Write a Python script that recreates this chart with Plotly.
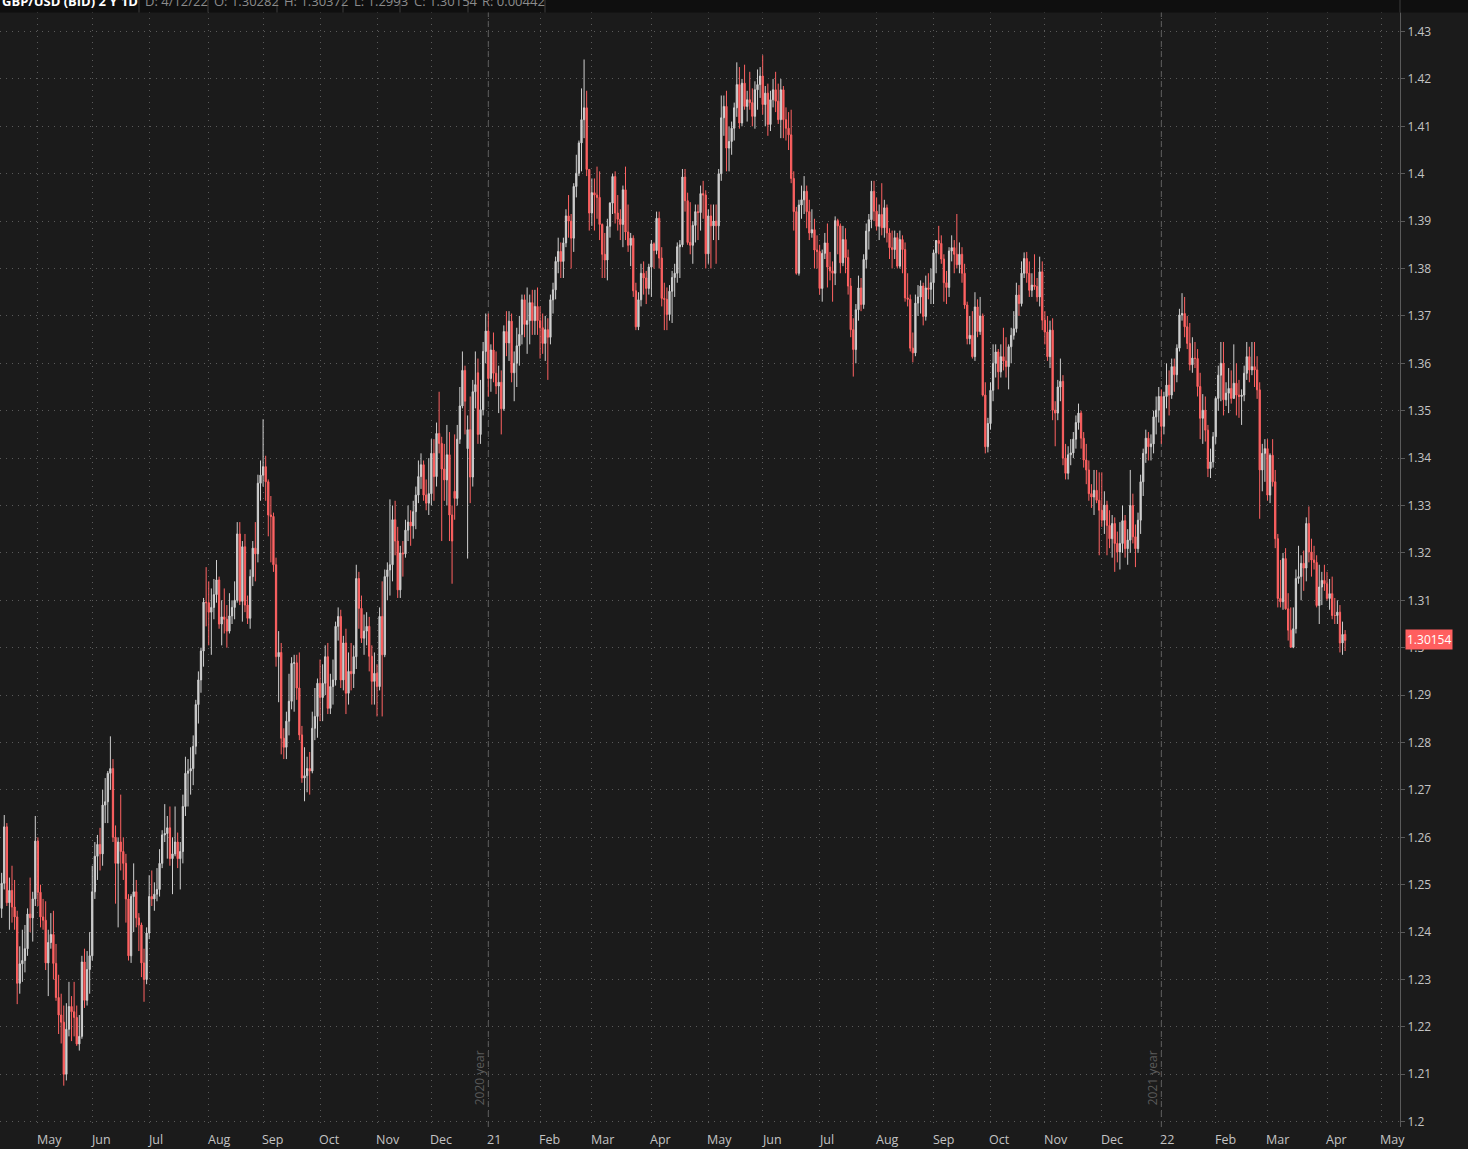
import numpy as np
import pandas as pd
import plotly.graph_objects as go

# ---------------- DATA: GBP/USD (BID), daily candles, 13 Apr 2020 - 12 Apr 2022 ----------------
opens = [
 # Apr 2020
 1.2450,1.2503,1.2622,1.2462,1.2488,1.2453,1.2432,1.2292,1.2333,1.2340,1.2365,1.2438,1.2430,1.2470,
 # May 2020
 1.2592,1.2484,1.2432,1.2425,1.2335,1.2378,1.2395,1.2334,1.2262,1.2225,1.2210,1.2100,1.2195,1.2243,1.2232,1.2220,1.2164,1.2180,1.2337,1.2256,1.2321,
 # Jun 2020
 1.2350,1.2485,1.2560,1.2585,1.2565,1.2668,1.2675,1.2735,1.2745,1.2600,1.2545,1.2590,1.2570,1.2545,1.2470,1.2350,1.2475,1.2485,1.2430,1.2415,1.2335,1.2300,
 # Jul 2020
 1.2398,1.2475,1.2470,1.2480,1.2490,1.2545,1.2605,1.2608,1.2620,1.2555,1.2565,1.2590,1.2555,1.2570,1.2665,1.2735,1.2740,1.2745,1.2792,1.2880,1.2932,1.2993,1.3096,
 # Aug 2020
 1.3095,1.3075,1.3085,1.3112,1.3143,1.3050,1.3065,1.3060,1.3035,1.3067,1.3085,1.3100,1.3240,1.3098,1.3213,1.3090,1.3062,1.3150,1.3210,1.3198,1.3347,
 # Sep 2020
 1.3364,1.3382,1.3350,1.3280,1.3277,1.3175,1.2981,1.2990,1.2809,1.2790,1.2845,1.2887,1.2967,1.2968,1.2915,1.2816,1.2725,1.2730,1.2745,1.2740,1.2830,1.2855,
 # Oct 2020
 1.2925,1.2895,1.2925,1.2981,1.2872,1.2918,1.2932,1.3045,1.3066,1.2932,1.3010,1.2904,1.2950,1.2945,1.2981,1.3146,1.3083,1.3020,1.3035,1.3045,1.2982,1.2929,
 # Nov 2020
 1.2946,1.2918,1.3066,1.2985,1.3150,1.3164,1.3175,1.3270,1.3225,1.3122,1.3200,1.3198,1.3248,1.3265,1.3257,1.3287,1.3322,1.3361,1.3386,1.3322,1.3305,
 # Dec 2020
 1.3325,1.3410,1.3361,1.3452,1.3431,1.3377,1.3354,1.3407,1.3280,1.3330,1.3315,1.3440,1.3510,1.3585,1.3420,1.3460,1.3360,1.3540,1.3580,1.3450,1.3502,1.3625,
 # Jan 2021
 1.3668,1.3568,1.3628,1.3579,1.3552,1.3560,1.3504,1.3667,1.3643,1.3689,1.3580,1.3600,1.3637,1.3661,1.3734,1.3682,1.3690,1.3728,1.3690,1.3720,
 # Feb 2021
 1.3690,1.3675,1.3642,1.3671,1.3655,1.3734,1.3755,1.3815,1.3836,1.3815,1.3854,1.3911,1.3900,1.3864,1.3973,1.4001,1.4065,1.4114,1.4139,1.4009,
 # Mar 2021
 1.3917,1.3960,1.3955,1.3950,1.3893,1.3830,1.3818,1.3889,1.3938,1.3994,1.3917,1.3904,1.3893,1.3966,1.3877,1.3849,1.3864,1.3753,1.3677,1.3734,1.3790,1.3780,1.3758,
 # Apr 2021
 1.3803,1.3852,1.3838,1.3906,1.3822,1.3737,1.3735,1.3703,1.3752,1.3781,1.3790,1.3846,1.3850,1.3993,1.3943,1.3855,1.3849,1.3891,1.3920,1.3918,1.3958,1.3955,
 # May 2021
 1.3831,1.3911,1.3890,1.3900,1.3890,1.4000,1.4118,1.4142,1.4054,1.4068,1.4096,1.4139,1.4188,1.4107,1.4191,1.4142,1.4156,1.4150,1.4121,1.4177,1.4188,
 # Jun 2021
 1.4206,1.4146,1.4170,1.4104,1.4156,1.4177,1.4153,1.4114,1.4177,1.4114,1.4096,1.4082,1.3990,1.3920,1.3790,1.3934,1.3945,1.3963,1.3920,1.3875,1.3882,1.3839,
 # Jul 2021
 1.3836,1.3758,1.3832,1.3854,1.3803,1.3795,1.3790,1.3901,1.3890,1.3812,1.3861,1.3823,1.3763,1.3671,1.3629,1.3713,1.3759,1.3724,1.3819,1.3879,1.3903,1.3963,
 # Aug 2021
 1.3921,1.3889,1.3914,1.3886,1.3928,1.3875,1.3844,1.3840,1.3865,1.3805,1.3861,1.3840,1.3738,1.3735,1.3632,1.3622,1.3727,1.3740,1.3763,1.3699,1.3759,1.3756,
 # Sep 2021
 1.3770,1.3833,1.3859,1.3853,1.3820,1.3770,1.3760,1.3837,1.3844,1.3830,1.3808,1.3830,1.3790,1.3723,1.3652,1.3659,1.3614,1.3719,1.3667,1.3700,1.3533,1.3424,
 # Oct 2021
 1.3473,1.3543,1.3600,1.3624,1.3582,1.3614,1.3605,1.3593,1.3635,1.3659,1.3673,1.3744,1.3726,1.3790,1.3821,1.3790,1.3754,1.3765,1.3762,1.3740,1.3793,
 # Nov 2021
 1.3691,1.3666,1.3614,1.3670,1.3501,1.3495,1.3550,1.3562,1.3400,1.3368,1.3407,1.3411,1.3440,1.3475,1.3495,1.3442,1.3396,1.3375,1.3325,1.3318,1.3332,1.3311,
 # Dec 2021
 1.3290,1.3269,1.3301,1.3258,1.3230,1.3262,1.3220,1.3202,1.3220,1.3268,1.3209,1.3227,1.3300,1.3234,1.3209,1.3269,1.3350,1.3410,1.3442,1.3424,1.3430,1.3487,1.3501,
 # Jan 2022
 1.3530,1.3467,1.3530,1.3554,1.3533,1.3593,1.3576,1.3632,1.3702,1.3705,1.3677,1.3642,1.3597,1.3611,1.3610,1.3551,1.3484,1.3501,1.3459,1.3378,1.3392,
 # Feb 2022
 1.3445,1.3526,1.3575,1.3600,1.3523,1.3537,1.3547,1.3526,1.3558,1.3533,1.3530,1.3533,1.3579,1.3614,1.3586,1.3593,1.3586,1.3544,1.3375,1.3410,
 # Mar 2022
 1.3420,1.3322,1.3406,1.3350,1.3230,1.3104,1.3097,1.3188,1.3082,1.3037,1.3001,1.3040,1.3146,1.3150,1.3178,1.3168,1.3262,1.3202,1.3185,1.3180,1.3089,1.3128,1.3142,
 # Apr 2022
 1.3135,1.3104,1.3114,1.3068,1.3068,1.3075,1.3010,1.30282,
]

highs = [
 # Apr 2020
 1.2525,1.2647,1.2630,1.2515,1.2540,1.2510,1.2445,1.2370,1.2405,1.2415,1.2450,1.2515,1.2485,1.2645,
 # May 2020
 1.2600,1.2500,1.2470,1.2465,1.2405,1.2440,1.2445,1.2375,1.2310,1.2270,1.2245,1.2250,1.2295,1.2265,1.2295,1.2245,1.2225,1.2350,1.2365,1.2360,1.2400,
 # Jun 2020
 1.2540,1.2590,1.2605,1.2620,1.2700,1.2725,1.2740,1.2813,1.2765,1.2625,1.2600,1.2690,1.2600,1.2565,1.2480,1.2480,1.2545,1.2510,1.2440,1.2420,1.2365,1.2410,
 # Jul 2020
 1.2520,1.2530,1.2505,1.2535,1.2575,1.2615,1.2670,1.2645,1.2665,1.2600,1.2665,1.2610,1.2590,1.2690,1.2770,1.2765,1.2790,1.2815,1.2890,1.2950,1.3000,1.3105,1.3170,
 # Aug 2020
 1.3140,1.3125,1.3145,1.3185,1.3150,1.3100,1.3125,1.3090,1.3115,1.3100,1.3140,1.3265,1.3265,1.3225,1.3240,1.3110,1.3165,1.3225,1.3265,1.3365,1.3395,
 # Sep 2020
 1.3482,1.3405,1.3355,1.3320,1.3285,1.3190,1.3035,1.3010,1.2830,1.2865,1.2945,1.2980,1.2985,1.2985,1.2990,1.2835,1.2790,1.2770,1.2780,1.2865,1.2915,1.2935,
 # Oct 2020
 1.2975,1.2965,1.3005,1.3010,1.2945,1.2975,1.3055,1.3085,1.3080,1.3025,1.3040,1.2990,1.3010,1.3005,1.3175,1.3160,1.3110,1.3070,1.3075,1.3065,1.3005,1.2990,
 # Nov 2020
 1.2965,1.3085,1.3140,1.3165,1.3180,1.3313,1.3300,1.3310,1.3255,1.3215,1.3225,1.3270,1.3300,1.3290,1.3310,1.3340,1.3395,1.3410,1.3395,1.3355,1.3400,
 # Dec 2020
 1.3440,1.3440,1.3475,1.3540,1.3445,1.3430,1.3470,1.3455,1.3300,1.3450,1.3470,1.3550,1.3625,1.3595,1.3490,1.3530,1.3565,1.3625,1.3610,1.3565,1.3645,1.3705,
 # Jan 2021
 1.3705,1.3640,1.3665,1.3625,1.3595,1.3585,1.3680,1.3710,1.3710,1.3705,1.3625,1.3675,1.3700,1.3745,1.3745,1.3760,1.3745,1.3755,1.3755,1.3760,
 # Feb 2021
 1.3720,1.3705,1.3700,1.3695,1.3745,1.3770,1.3825,1.3865,1.3855,1.3865,1.3925,1.3955,1.3915,1.3980,1.4040,1.4070,1.4180,1.4241,1.4175,1.4010,
 # Mar 2021
 1.3990,1.3990,1.4015,1.4005,1.3895,1.3875,1.3905,1.3940,1.4000,1.4005,1.3955,1.3925,1.3975,1.4015,1.3935,1.3875,1.3870,1.3770,1.3750,1.3810,1.3815,1.3795,1.3810,
 # Apr 2021
 1.3860,1.3855,1.3920,1.3920,1.3845,1.3770,1.3760,1.3765,1.3795,1.3810,1.3855,1.3860,1.4010,1.4010,1.3960,1.3940,1.3900,1.3935,1.3935,1.3975,1.3985,1.3965,
 # May 2021
 1.3925,1.3935,1.3935,1.3935,1.4010,1.4165,1.4165,1.4175,1.4100,1.4110,1.4150,1.4235,1.4225,1.4200,1.4230,1.4175,1.4215,1.4180,1.4195,1.4220,1.4225,
 # Jun 2021
 1.4250,1.4185,1.4190,1.4175,1.4200,1.4215,1.4190,1.4200,1.4185,1.4140,1.4130,1.4135,1.4005,1.3930,1.3945,1.3975,1.3995,1.3975,1.3945,1.3925,1.3905,1.3870,
 # Jul 2021
 1.3850,1.3840,1.3875,1.3895,1.3835,1.3815,1.3910,1.3905,1.3895,1.3890,1.3885,1.3840,1.3780,1.3695,1.3725,1.3785,1.3780,1.3830,1.3895,1.3915,1.3985,1.3985,
 # Aug 2021
 1.3950,1.3935,1.3980,1.3945,1.3935,1.3885,1.3880,1.3880,1.3875,1.3880,1.3870,1.3855,1.3790,1.3745,1.3665,1.3745,1.3765,1.3775,1.3770,1.3785,1.3790,1.3800,
 # Sep 2021
 1.3840,1.3860,1.3890,1.3870,1.3830,1.3795,1.3845,1.3870,1.3860,1.3915,1.3855,1.3845,1.3810,1.3730,1.3700,1.3710,1.3750,1.3735,1.3740,1.3705,1.3560,1.3485,
 # Oct 2021
 1.3560,1.3640,1.3640,1.3630,1.3640,1.3675,1.3655,1.3640,1.3675,1.3710,1.3770,1.3765,1.3815,1.3834,1.3835,1.3815,1.3790,1.3830,1.3780,1.3825,1.3815,
 # Nov 2021
 1.3710,1.3700,1.3690,1.3695,1.3520,1.3565,1.3610,1.3575,1.3430,1.3425,1.3440,1.3455,1.3490,1.3515,1.3500,1.3455,1.3430,1.3395,1.3345,1.3375,1.3375,1.3370,
 # Dec 2021
 1.3370,1.3330,1.3310,1.3290,1.3280,1.3275,1.3245,1.3265,1.3300,1.3280,1.3250,1.3375,1.3325,1.3260,1.3285,1.3365,1.3420,1.3460,1.3455,1.3450,1.3500,1.3530,1.3550,
 # Jan 2022
 1.3545,1.3540,1.3600,1.3585,1.3610,1.3610,1.3640,1.3715,1.3748,1.3740,1.3700,1.3685,1.3655,1.3645,1.3630,1.3580,1.3535,1.3530,1.3470,1.3420,1.3455,
 # Feb 2022
 1.3530,1.3595,1.3645,1.3645,1.3560,1.3590,1.3585,1.3640,1.3600,1.3565,1.3545,1.3595,1.3645,1.3635,1.3645,1.3645,1.3615,1.3560,1.3430,1.3440,
 # Mar 2022
 1.3440,1.3410,1.3440,1.3375,1.3240,1.3185,1.3200,1.3210,1.3115,1.3085,1.3085,1.3165,1.3215,1.3195,1.3205,1.3275,1.3298,1.3230,1.3215,1.3195,1.3175,1.3160,1.3175,
 # Apr 2022
 1.3160,1.3145,1.3150,1.3105,1.3100,1.3090,1.3055,1.30372,
]

lows = [
 # Apr 2020
 1.2430,1.2490,1.2455,1.2405,1.2420,1.2405,1.2248,1.2270,1.2295,1.2315,1.2350,1.2400,1.2380,1.2455,
 # May 2020
 1.2455,1.2410,1.2405,1.2320,1.2265,1.2365,1.2300,1.2255,1.2185,1.2165,1.2076,1.2087,1.2180,1.2170,1.2180,1.2160,1.2150,1.2175,1.2240,1.2245,1.2270,
 # Jun 2020
 1.2340,1.2470,1.2510,1.2530,1.2540,1.2630,1.2630,1.2700,1.2590,1.2460,1.2410,1.2530,1.2510,1.2420,1.2340,1.2335,1.2400,1.2410,1.2360,1.2305,1.2253,1.2290,
 # Jul 2020
 1.2385,1.2455,1.2445,1.2465,1.2475,1.2535,1.2590,1.2555,1.2540,1.2480,1.2560,1.2535,1.2490,1.2545,1.2645,1.2665,1.2690,1.2710,1.2775,1.2840,1.2905,1.2960,1.3045,
 # Aug 2020
 1.3005,1.2985,1.3060,1.3095,1.3040,1.3005,1.3030,1.3000,1.3030,1.3050,1.3060,1.3095,1.3090,1.3055,1.3075,1.3050,1.3040,1.3130,1.3140,1.3180,1.3310,
 # Sep 2020
 1.3340,1.3310,1.3235,1.3180,1.3160,1.2960,1.2885,1.2775,1.2765,1.2765,1.2815,1.2870,1.2865,1.2890,1.2805,1.2715,1.2676,1.2695,1.2690,1.2735,1.2805,1.2810,
 # Oct 2020
 1.2845,1.2845,1.2900,1.2860,1.2860,1.2880,1.2920,1.3015,1.2915,1.2910,1.2860,1.2880,1.2910,1.2915,1.2955,1.3040,1.3010,1.2985,1.3005,1.2950,1.2880,1.2880,
 # Nov 2020
 1.2855,1.2910,1.2855,1.2980,1.3100,1.3110,1.3140,1.3195,1.3105,1.3105,1.3150,1.3190,1.3225,1.3215,1.3230,1.3250,1.3305,1.3335,1.3310,1.3290,1.3280,
 # Dec 2020
 1.3300,1.3310,1.3340,1.3410,1.3225,1.3310,1.3300,1.3225,1.3135,1.3270,1.3300,1.3430,1.3505,1.3450,1.3188,1.3305,1.3340,1.3505,1.3430,1.3430,1.3490,1.3600,
 # Jan 2021
 1.3530,1.3540,1.3560,1.3535,1.3495,1.3450,1.3500,1.3615,1.3605,1.3560,1.3520,1.3550,1.3595,1.3640,1.3655,1.3620,1.3640,1.3660,1.3660,1.3660,
 # Feb 2021
 1.3610,1.3620,1.3605,1.3565,1.3640,1.3705,1.3735,1.3790,1.3780,1.3780,1.3845,1.3865,1.3800,1.3835,1.3950,1.3995,1.4005,1.4075,1.3995,1.3880,
 # Mar 2021
 1.3890,1.3880,1.3905,1.3860,1.3780,1.3780,1.3775,1.3865,1.3915,1.3895,1.3880,1.3860,1.3845,1.3860,1.3835,1.3805,1.3740,1.3670,1.3670,1.3720,1.3745,1.3725,1.3745,
 # Apr 2021
 1.3740,1.3800,1.3830,1.3800,1.3720,1.3670,1.3670,1.3690,1.3685,1.3740,1.3770,1.3780,1.3845,1.3920,1.3850,1.3830,1.3810,1.3855,1.3860,1.3880,1.3905,1.3800,
 # May 2021
 1.3810,1.3800,1.3860,1.3810,1.3860,1.3985,1.4080,1.4005,1.4005,1.4040,1.4070,1.4120,1.4095,1.4100,1.4135,1.4110,1.4135,1.4100,1.4095,1.4135,1.4160,
 # Jun 2021
 1.4125,1.4100,1.4080,1.4090,1.4140,1.4130,1.4105,1.4075,1.4075,1.4070,1.4050,1.3980,1.3880,1.3787,1.3785,1.3905,1.3915,1.3885,1.3860,1.3865,1.3800,1.3800,
 # Jul 2021
 1.3745,1.3730,1.3820,1.3760,1.3775,1.3730,1.3765,1.3830,1.3790,1.3805,1.3790,1.3745,1.3655,1.3572,1.3600,1.3690,1.3710,1.3715,1.3800,1.3840,1.3885,1.3900,
 # Aug 2021
 1.3880,1.3860,1.3870,1.3865,1.3855,1.3820,1.3800,1.3820,1.3800,1.3800,1.3790,1.3730,1.3720,1.3625,1.3602,1.3615,1.3700,1.3705,1.3680,1.3690,1.3735,1.3725,
 # Sep 2021
 1.3725,1.3790,1.3830,1.3810,1.3730,1.3725,1.3740,1.3815,1.3790,1.3800,1.3790,1.3770,1.3715,1.3640,1.3640,1.3610,1.3605,1.3655,1.3660,1.3530,1.3410,1.3412,
 # Oct 2021
 1.3460,1.3520,1.3570,1.3545,1.3570,1.3585,1.3570,1.3545,1.3600,1.3650,1.3665,1.3700,1.3720,1.3780,1.3770,1.3740,1.3740,1.3755,1.3730,1.3720,1.3670,
 # Nov 2021
 1.3640,1.3605,1.3590,1.3480,1.3425,1.3480,1.3520,1.3385,1.3355,1.3355,1.3385,1.3400,1.3420,1.3460,1.3420,1.3380,1.3345,1.3310,1.3295,1.3280,1.3305,1.3195,
 # Dec 2021
 1.3255,1.3240,1.3195,1.3210,1.3190,1.3160,1.3180,1.3165,1.3200,1.3190,1.3175,1.3200,1.3220,1.3170,1.3200,1.3240,1.3320,1.3390,1.3395,1.3395,1.3410,1.3450,1.3475,
 # Jan 2022
 1.3430,1.3450,1.3505,1.3490,1.3525,1.3540,1.3560,1.3625,1.3690,1.3655,1.3630,1.3585,1.3580,1.3590,1.3530,1.3440,1.3430,1.3435,1.3360,1.3358,1.3380,
 # Feb 2022
 1.3430,1.3500,1.3520,1.3490,1.3510,1.3495,1.3515,1.3525,1.3490,1.3485,1.3470,1.3520,1.3565,1.3560,1.3575,1.3550,1.3525,1.3272,1.3330,1.3350,
 # Mar 2022
 1.3310,1.3305,1.3340,1.3210,1.3085,1.3085,1.3080,1.3080,1.3015,1.3000,1.2999,1.3030,1.3135,1.3100,1.3120,1.3140,1.3180,1.3150,1.3165,1.3085,1.3050,1.3090,1.3120,
 # Apr 2022
 1.3100,1.3080,1.3060,1.3050,1.3050,1.2990,1.2985,1.2993,
]

closes = [
 # Apr 2020
 1.2503,1.2622,1.2462,1.2488,1.2453,1.2432,1.2292,1.2333,1.2340,1.2365,1.2438,1.2430,1.2470,1.2592,
 # May 2020
 1.2484,1.2432,1.2425,1.2335,1.2378,1.2395,1.2334,1.2262,1.2225,1.2210,1.2100,1.2195,1.2243,1.2232,1.2220,1.2164,1.2180,1.2337,1.2256,1.2321,1.2350,
 # Jun 2020
 1.2485,1.2560,1.2585,1.2565,1.2668,1.2675,1.2735,1.2745,1.2600,1.2545,1.2590,1.2570,1.2545,1.2470,1.2350,1.2475,1.2485,1.2430,1.2415,1.2335,1.2300,1.2398,
 # Jul 2020
 1.2475,1.2470,1.2480,1.2490,1.2545,1.2605,1.2608,1.2620,1.2555,1.2565,1.2590,1.2555,1.2570,1.2665,1.2735,1.2740,1.2745,1.2792,1.2880,1.2932,1.2993,1.3096,1.3095,
 # Aug 2020
 1.3075,1.3085,1.3112,1.3143,1.3050,1.3065,1.3060,1.3035,1.3067,1.3085,1.3100,1.3240,1.3098,1.3213,1.3090,1.3062,1.3150,1.3210,1.3198,1.3347,1.3364,
 # Sep 2020
 1.3382,1.3350,1.3280,1.3277,1.3175,1.2981,1.2990,1.2809,1.2790,1.2845,1.2887,1.2967,1.2968,1.2915,1.2816,1.2725,1.2730,1.2745,1.2740,1.2830,1.2855,1.2925,
 # Oct 2020
 1.2895,1.2925,1.2981,1.2872,1.2918,1.2932,1.3045,1.3066,1.2932,1.3010,1.2904,1.2950,1.2945,1.2981,1.3146,1.3083,1.3020,1.3035,1.3045,1.2982,1.2929,1.2946,
 # Nov 2020
 1.2918,1.3066,1.2985,1.3150,1.3164,1.3175,1.3270,1.3225,1.3122,1.3200,1.3198,1.3248,1.3265,1.3257,1.3287,1.3322,1.3361,1.3386,1.3322,1.3305,1.3325,
 # Dec 2020
 1.3410,1.3361,1.3452,1.3431,1.3377,1.3354,1.3407,1.3280,1.3225,1.3315,1.3440,1.3510,1.3585,1.3520,1.3460,1.3360,1.3540,1.3555,1.3450,1.3502,1.3625,1.3668,
 # Jan 2021
 1.3568,1.3628,1.3579,1.3552,1.3560,1.3504,1.3667,1.3643,1.3689,1.3580,1.3600,1.3637,1.3661,1.3734,1.3682,1.3690,1.3728,1.3690,1.3720,1.3690,
 # Feb 2021
 1.3675,1.3642,1.3671,1.3655,1.3734,1.3755,1.3815,1.3836,1.3815,1.3854,1.3911,1.3900,1.3864,1.3973,1.4001,1.4065,1.4114,1.4139,1.4009,1.3917,
 # Mar 2021
 1.3960,1.3955,1.3950,1.3893,1.3830,1.3818,1.3889,1.3938,1.3994,1.3917,1.3904,1.3893,1.3966,1.3877,1.3849,1.3864,1.3753,1.3677,1.3734,1.3790,1.3780,1.3758,1.3803,
 # Apr 2021
 1.3852,1.3838,1.3906,1.3822,1.3737,1.3735,1.3703,1.3752,1.3781,1.3790,1.3846,1.3850,1.3993,1.3943,1.3855,1.3849,1.3891,1.3920,1.3918,1.3958,1.3955,1.3831,
 # May 2021
 1.3911,1.3890,1.3900,1.3890,1.4000,1.4118,1.4142,1.4054,1.4068,1.4096,1.4139,1.4188,1.4107,1.4191,1.4142,1.4156,1.4150,1.4121,1.4177,1.4188,1.4206,
 # Jun 2021
 1.4146,1.4170,1.4104,1.4156,1.4177,1.4153,1.4114,1.4177,1.4114,1.4096,1.4082,1.3990,1.3920,1.3790,1.3934,1.3945,1.3963,1.3920,1.3875,1.3882,1.3839,1.3836,
 # Jul 2021
 1.3758,1.3832,1.3854,1.3803,1.3795,1.3790,1.3901,1.3890,1.3812,1.3861,1.3823,1.3763,1.3671,1.3629,1.3713,1.3759,1.3724,1.3819,1.3879,1.3903,1.3963,1.3921,
 # Aug 2021
 1.3889,1.3914,1.3886,1.3928,1.3875,1.3844,1.3840,1.3865,1.3805,1.3861,1.3840,1.3738,1.3735,1.3632,1.3622,1.3727,1.3740,1.3763,1.3699,1.3759,1.3756,1.3770,
 # Sep 2021
 1.3833,1.3859,1.3853,1.3820,1.3770,1.3760,1.3837,1.3844,1.3830,1.3808,1.3830,1.3790,1.3723,1.3652,1.3659,1.3614,1.3719,1.3667,1.3700,1.3533,1.3424,1.3473,
 # Oct 2021
 1.3543,1.3600,1.3624,1.3582,1.3614,1.3605,1.3593,1.3635,1.3659,1.3673,1.3744,1.3726,1.3790,1.3821,1.3790,1.3754,1.3765,1.3762,1.3740,1.3793,1.3691,
 # Nov 2021
 1.3666,1.3614,1.3670,1.3501,1.3495,1.3550,1.3562,1.3400,1.3368,1.3407,1.3411,1.3440,1.3475,1.3495,1.3442,1.3396,1.3375,1.3325,1.3318,1.3332,1.3311,1.3290,
 # Dec 2021
 1.3269,1.3301,1.3258,1.3230,1.3262,1.3220,1.3202,1.3220,1.3268,1.3209,1.3227,1.3300,1.3234,1.3209,1.3269,1.3350,1.3410,1.3442,1.3424,1.3430,1.3487,1.3501,1.3530,
 # Jan 2022
 1.3467,1.3530,1.3554,1.3533,1.3593,1.3576,1.3632,1.3702,1.3705,1.3677,1.3642,1.3597,1.3611,1.3610,1.3551,1.3484,1.3501,1.3459,1.3378,1.3392,1.3445,
 # Feb 2022
 1.3526,1.3575,1.3600,1.3523,1.3537,1.3547,1.3526,1.3558,1.3533,1.3530,1.3533,1.3579,1.3614,1.3586,1.3593,1.3586,1.3544,1.3375,1.3410,1.3420,
 # Mar 2022
 1.3322,1.3406,1.3350,1.3230,1.3104,1.3097,1.3188,1.3082,1.3037,1.3001,1.3040,1.3146,1.3150,1.3178,1.3168,1.3262,1.3202,1.3185,1.3180,1.3089,1.3128,1.3142,1.3135,
 # Apr 2022
 1.3104,1.3114,1.3068,1.3068,1.3075,1.3010,1.3028,1.30154,
]

month_labels = ["May", "Jun", "Jul", "Aug", "Sep", "Oct", "Nov", "Dec",
                "21", "Feb", "Mar", "Apr", "May", "Jun", "Jul", "Aug", "Sep", "Oct", "Nov", "Dec",
                "22", "Feb", "Mar", "Apr", "May"]
year_marks = {"21": "2020 year", "22": "2021 year"}
y_ticks = [1.20, 1.21, 1.22, 1.23, 1.24, 1.25, 1.26, 1.27, 1.28, 1.29, 1.30, 1.31,
           1.32, 1.33, 1.34, 1.35, 1.36, 1.37, 1.38, 1.39, 1.40, 1.41, 1.42, 1.43]
header_title = "GBP/USD (BID) 2 Y 1D"
header_fields = ["D: 4/12/22", "O: 1.30282", "H: 1.30372", "L: 1.2993", "C: 1.30154", "R: 0.00442"]
last_price = 1.30154

# ---------------- calendar / axis positions ----------------
n = len(closes)
assert len(opens) == len(highs) == len(lows) == n == 520, (len(opens), len(highs), len(lows), n)
cal = pd.bdate_range("2020-04-13", "2022-05-31")
cal = cal[~cal.isin(pd.to_datetime(["2020-12-25", "2021-01-01"]))]
xpos = list(range(n))
month_first = []
prev = None
for i, d in enumerate(cal):
    key = (d.year, d.month)
    if key != prev:
        month_first.append(i)
        prev = key
month_first = month_first[1:]  # first month (Apr 2020) is partial
assert len(month_first) == len(month_labels)

BG = "#1b1b1b"
GRID = "#5a5a5a"
TXT = "#c4c4c4"
UP = "#cfcfcf"
DOWN = "#ff6262"
PLOT_W = 1400.0
PLOT_H = 1127.0

fig = go.Figure()
fig.add_trace(go.Candlestick(
    x=xpos, open=opens, high=highs, low=lows, close=closes,
    increasing=dict(line=dict(color=UP, width=1), fillcolor=UP),
    decreasing=dict(line=dict(color=DOWN, width=1), fillcolor=DOWN),
    whiskerwidth=0, hoverinfo="skip", showlegend=False,
))

shapes = []
annotations = []

# year separator lines
for pos, lab in zip(month_first, month_labels):
    if lab in year_marks:
        shapes.append(dict(type="line", xref="x", yref="paper", x0=pos, x1=pos, y0=0, y1=1,
                           line=dict(color="#5e5e5e", width=1, dash="6px,4px"), layer="below"))
        annotations.append(dict(x=pos, xref="x", y=1.2031, yref="y", text=year_marks[lab],
                                textangle=-90, xanchor="right", yanchor="bottom", xshift=2,
                                showarrow=False, font=dict(size=12, color="#5a5a5a")))

# month labels (left-aligned right of the gridline)
for pos, lab in zip(month_first, month_labels):
    annotations.append(dict(x=pos, xref="x", y=0, yref="paper", text=lab, xanchor="left",
                            yanchor="top", xshift=-3, yshift=-2, showarrow=False,
                            font=dict(size=12.5, color=TXT)))

# header bar
hb = 1 - 12.5 / PLOT_H
shapes.append(dict(type="rect", xref="paper", yref="paper", x0=0, x1=1468 / PLOT_W, y0=hb, y1=1.02,
                   fillcolor="#0f0f0f", line=dict(width=0), layer="above"))
for sx in [139, 208, 277, 343, 400, 468, 545, 1400]:
    shapes.append(dict(type="line", xref="paper", yref="paper", x0=sx / PLOT_W, x1=sx / PLOT_W,
                       y0=hb, y1=1.02, line=dict(color="#3c3c3c", width=1), layer="above"))
annotations.append(dict(x=0, xref="paper", y=1, yref="paper", text="<b>" + header_title + "</b>",
                        xanchor="left", yanchor="middle", yshift=-1, showarrow=False,
                        font=dict(size=13, color="#ffffff")))
for hx, txt in zip([143, 212, 282, 352, 412, 480], header_fields):
    annotations.append(dict(x=hx / PLOT_W, xref="paper", y=1, yref="paper", text=txt,
                            xanchor="left", yanchor="middle", yshift=-1, showarrow=False,
                            font=dict(size=13, color="#8c8c8c")))

# last price marker
annotations.append(dict(x=1, xref="paper", y=last_price, yref="y", text=f"{last_price:.5f}",
                        xanchor="left", yanchor="middle", xshift=5, yshift=1, showarrow=False,
                        bgcolor="#ff5f5f", borderpad=1, font=dict(size=12, color="#ffffff")))

fig.update_layout(
    width=1468, height=1149,
    margin=dict(l=0, r=68, t=0, b=22),
    paper_bgcolor=BG, plot_bgcolor=BG,
    font=dict(family="Open Sans, DejaVu Sans, sans-serif", color=TXT, size=12),
    showlegend=False,
    shapes=shapes, annotations=annotations,
    xaxis=dict(range=[-0.64, 540.2], tickvals=month_first, showticklabels=False,
               showgrid=True, gridcolor=GRID, griddash="1px,5px", gridwidth=1,
               zeroline=False, showline=False, ticks="", rangeslider=dict(visible=False),
               fixedrange=True),
    yaxis=dict(side="right", range=[1.19888, 1.43665], tickvals=y_ticks,
               ticktext=[f"{v:g}" for v in y_ticks],
               showgrid=True, gridcolor=GRID, griddash="1px,5px", gridwidth=1,
               zeroline=False, showline=True, linecolor="#5a5a5a", linewidth=1,
               ticks="outside", ticklen=4, tickcolor="#5a5a5a",
               tickfont=dict(size=12, color=TXT), fixedrange=True),
)

fig.write_html("out.html", config={"displayModeBar": False, "staticPlot": True},
               post_script="document.body.style.margin='0';document.body.style.overflow='hidden';")
